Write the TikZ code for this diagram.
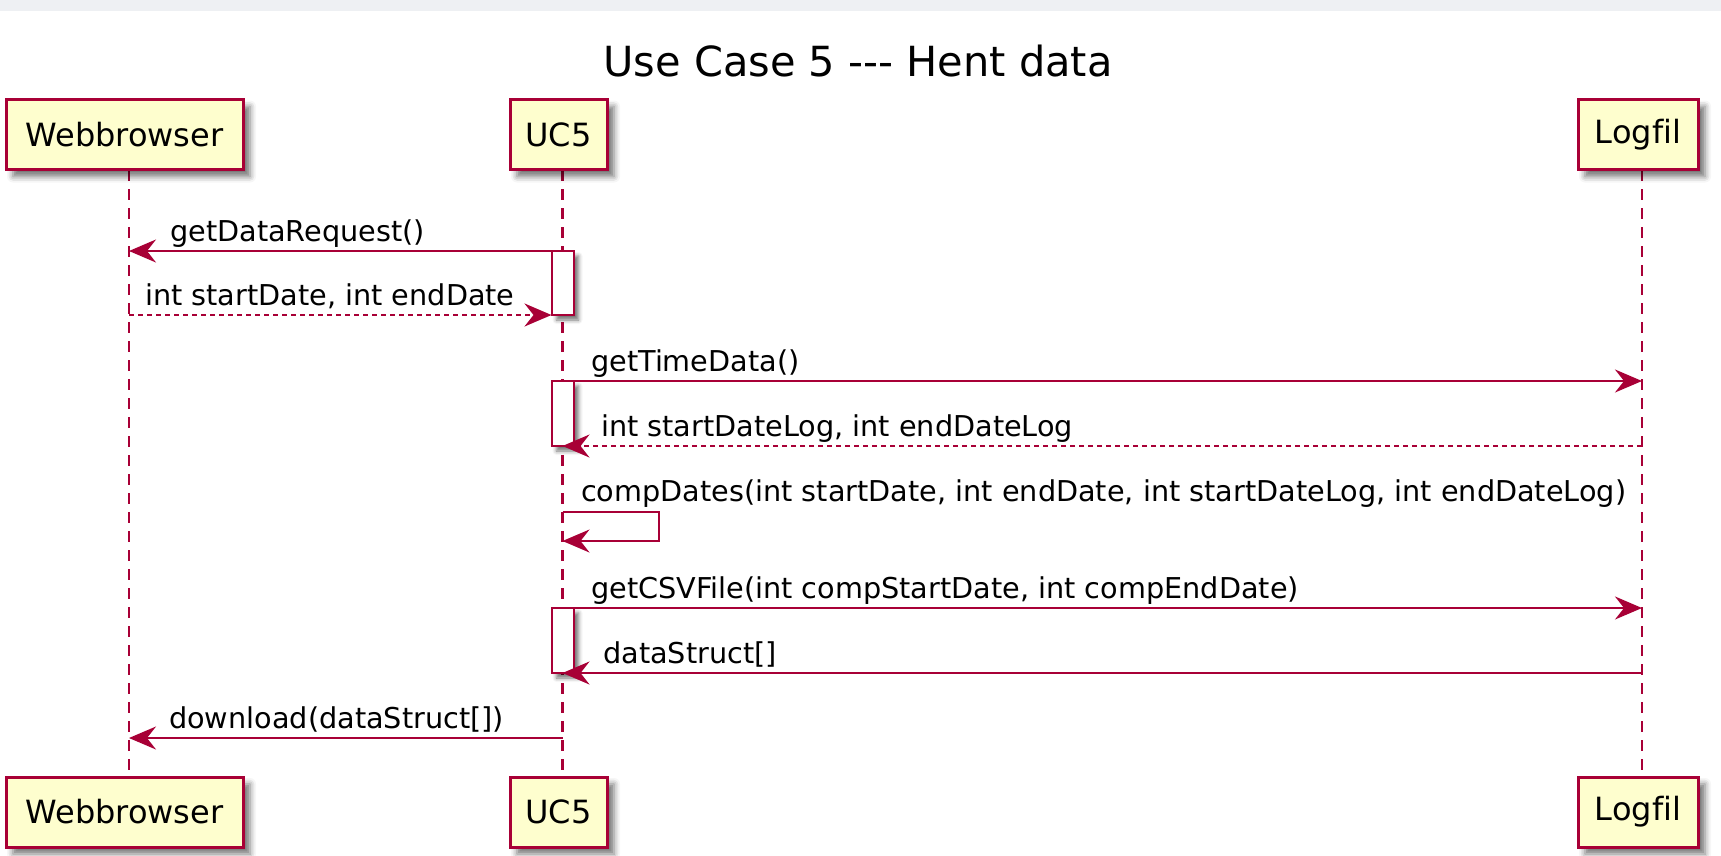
\documentclass[tikz,border=0pt]{standalone}
\usepackage{fontspec}
\setmainfont{DejaVu Sans}[Ligatures=CommonOff]
\usetikzlibrary{arrows.meta,shadows.blur}

\definecolor{umlred}{HTML}{A80036}
\definecolor{umlfill}{HTML}{FEFECE}
\definecolor{bandgray}{HTML}{EEF0F3}

\tikzset{
  participant/.style={draw=umlred, line width=3pt, fill=umlfill, minimum height=70pt,
    inner sep=0pt, outer sep=0pt, font=\fontsize{32}{38}\selectfont,
    blur shadow={shadow xshift=7pt, shadow yshift=-7pt, shadow blur radius=6pt, shadow opacity=55}},
  activation/.style={draw=umlred, line width=2pt, fill=white, minimum width=22pt,
    inner sep=0pt, outer sep=0pt,
    blur shadow={shadow xshift=5pt, shadow yshift=-5pt, shadow blur radius=4pt, shadow opacity=55}},
  lifeline/.style={draw=umlred, line width=2.2pt, dash pattern=on 11pt off 8pt},
  msg/.style={draw=umlred, line width=2pt, -{Stealth[length=27pt, width=23pt, inset=9pt]}},
  reply/.style={msg, dash pattern=on 5pt off 4pt},
  lbl/.style={anchor=base west, inner sep=0pt, font=\fontsize{28.7}{35}\selectfont},
}

\begin{document}
\begin{tikzpicture}[x=1pt, y=-1pt]
  \useasboundingbox (0,0) rectangle (1721,855);
  \fill[bandgray] (0,0) rectangle (1721,11);
  \node[anchor=base, inner sep=0pt, font=\fontsize{41.5}{50}\selectfont] (title) at (858,76)
    {Use Case 5 \mbox{-}\mbox{-}\mbox{-} Hent data};

  % lifelines first, boxes on top
  \coordinate (web) at (129,170);
  \coordinate (uc) at (562.5,170);
  \coordinate (log) at (1642,170);
  \draw[lifeline] (web) -- (web |- 0,777);
  \draw[lifeline] (uc) -- (uc |- 0,777);
  \draw[lifeline] (log) -- (log |- 0,777);

  % participants, top and bottom
  \node[participant, minimum width=237pt] (webT) at (124.5,134.5) {Webbrowser};
  \node[participant, minimum width=97pt] (ucT) at (558.5,134.5) {UC5};
  \node[participant, minimum width=120pt] (logT) at (1638,134.5) {Logfil};
  \node[participant, minimum width=237pt] (webB) at (124.5,812) {Webbrowser};
  \node[participant, minimum width=97pt] (ucB) at (558.5,812) {UC5};
  \node[participant, minimum width=120pt] (logB) at (1638,812) {Logfil};

  % activations of UC5
  \node[activation, minimum height=64pt] (act1) at (562.5,283) {};
  \node[activation, minimum height=65pt] (act2) at (562.5,413.5) {};
  \node[activation, minimum height=65pt] (act3) at (562.5,640.5) {};

  % messages
  \draw[msg] (act1.north) -- (act1.north -| web);
  \node[lbl] (l1) at (170,241) {getDataRequest()};
  \draw[reply] (act1.south -| web) -- (act1.south west);
  \node[lbl] (l2) at (145,305) {int startDate, int endDate};

  \draw[msg] (act2.north east) -- (act2.north -| log);
  \node[lbl] (l3) at (591,371) {getTimeData()};
  \draw[reply] (act2.south -| log) -- (act2.south);
  \node[lbl] (l4) at (601,436) {int startDateLog, int endDateLog};

  \coordinate (self) at (562.5,512);
  \draw[msg] (self) -- ++(96,0) -- ++(0,29) -- ++(-96,0);
  \node[lbl] (l5) at (581,501) {compDates(int startDate, int endDate, int startDateLog, int endDateLog)};

  \draw[msg] (act3.north east) -- (act3.north -| log);
  \node[lbl] (l6) at (591,598) {getCSVFile(int compStartDate, int compEndDate)};
  \draw[msg] (act3.south -| log) -- (act3.south);
  \node[lbl] (l7) at (603,663) {dataStruct[]};

  \coordinate (dl) at (562.5,738);
  \draw[msg] (dl) -- (dl -| web);
  \node[lbl] (l8) at (169,728) {download(dataStruct[])};
\end{tikzpicture}
\end{document}
